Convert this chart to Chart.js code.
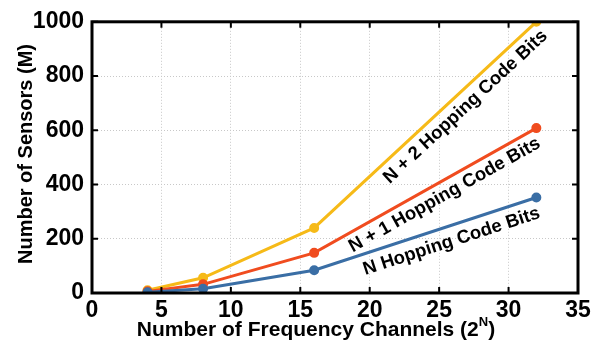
<!DOCTYPE html>
<html>
<head>
<meta charset="utf-8">
<script src="https://cdn.jsdelivr.net/npm/chart.js@4/dist/chart.umd.min.js"></script>
<style>
    html, body { margin: 0; padding: 0; background: #fff; }
    #wrap { width: 600px; height: 350px; }
</style>
</head>
<body>
<div id="wrap"><canvas id="sensorChart"></canvas></div>
<script>
const channels = [4, 8, 16, 32];
const nBits = [3, 16, 84, 352];
const n1Bits = [6, 32, 148, 608];
const n2Bits = [10, 56, 240, 1000];
const xTicks = [0, 5, 10, 15, 20, 25, 30, 35];
const yTicks = [0, 200, 400, 600, 800, 1000];

const FONT = '"Liberation Sans", Arial, Helvetica, sans-serif';

// text along each curve: label, centre (data units), series index
const curveLabels = [
    { text: 'N + 2 Hopping Code Bits', x: 26.9, y: 686, ds: 2 },
    { text: 'N + 1 Hopping Code Bits', x: 25.4, y: 361, ds: 1 },
    { text: 'N Hopping Code Bits', x: 25.9, y: 190, ds: 0 }
];

const toPoints = vals => vals.map((v, i) => ({ x: channels[i], y: v }));

// box, inward ticks, axis titles, curve labels
const decorations = {
    id: 'decorations',
    afterDraw(chart) {
        const { ctx, chartArea: a, scales: { x, y } } = chart;
        ctx.save();

        ctx.strokeStyle = '#000';
        ctx.lineWidth = 2;
        ctx.beginPath();
        xTicks.forEach(t => {
            const px = x.getPixelForValue(t);
            ctx.moveTo(px, a.bottom); ctx.lineTo(px, a.bottom - 6);
            ctx.moveTo(px, a.top); ctx.lineTo(px, a.top + 6);
        });
        yTicks.forEach(t => {
            const py = y.getPixelForValue(t);
            ctx.moveTo(a.left, py); ctx.lineTo(a.left + 6, py);
            ctx.moveTo(a.right, py); ctx.lineTo(a.right - 6, py);
        });
        ctx.stroke();

        ctx.lineWidth = 3;
        ctx.strokeRect(a.left, a.top, a.right - a.left, a.bottom - a.top);

        ctx.fillStyle = '#000';

        // y axis title
        ctx.save();
        ctx.font = 'bold 20px ' + FONT;
        ctx.textAlign = 'center';
        ctx.textBaseline = 'middle';
        ctx.translate(26, 154);
        ctx.rotate(-Math.PI / 2);
        ctx.fillText('Number of Sensors (M)', 0, 0);
        ctx.restore();

        // x axis title with superscript N
        const main = 'Number of Frequency Channels (2';
        ctx.textBaseline = 'alphabetic';
        ctx.font = 'bold 21px ' + FONT;
        const w1 = ctx.measureText(main).width;
        const w3 = ctx.measureText(')').width;
        ctx.font = 'bold 13px ' + FONT;
        const w2 = ctx.measureText('N').width;
        let sx = 316 - (w1 + w2 + w3) / 2;
        const base = 336;
        ctx.textAlign = 'left';
        ctx.font = 'bold 21px ' + FONT;
        ctx.fillText(main, sx, base);
        ctx.font = 'bold 13px ' + FONT;
        ctx.fillText('N', sx + w1, base - 10);
        ctx.font = 'bold 21px ' + FONT;
        ctx.fillText(')', sx + w1 + w2, base);

        // labels along the curves
        ctx.font = 'bold 18.5px ' + FONT;
        ctx.textAlign = 'center';
        ctx.textBaseline = 'middle';
        curveLabels.forEach(l => {
            const d = chart.data.datasets[l.ds].data;
            const p1 = d[2], p2 = d[3];
            const dx = x.getPixelForValue(p2.x) - x.getPixelForValue(p1.x);
            const dy = y.getPixelForValue(p2.y) - y.getPixelForValue(p1.y);
            ctx.save();
            ctx.translate(x.getPixelForValue(l.x), y.getPixelForValue(l.y));
            ctx.rotate(Math.atan2(dy, dx));
            ctx.fillText(l.text, 0, 0);
            ctx.restore();
        });

        ctx.restore();
    }
};

const series = [
    { label: 'N Hopping Code Bits', data: toPoints(nBits), color: '#3a6ea5' },
    { label: 'N + 1 Hopping Code Bits', data: toPoints(n1Bits), color: '#f04c1f' },
    { label: 'N + 2 Hopping Code Bits', data: toPoints(n2Bits), color: '#f6ba18' }
];

new Chart(document.getElementById('sensorChart'), {
    type: 'line',
    data: {
        datasets: series.map(s => ({
            label: s.label,
            data: s.data,
            borderColor: s.color,
            backgroundColor: s.color,
            borderWidth: 3,
            pointRadius: 3.5,
            pointHoverRadius: 3.5,
            tension: 0
        }))
    },
    options: {
        responsive: true,
        maintainAspectRatio: false,
        animation: false,
        layout: { padding: { left: 0, right: 22, top: 19, bottom: 0 } },
        plugins: {
            legend: { display: false },
            tooltip: { enabled: false }
        },
        scales: {
            x: {
                type: 'linear',
                min: 0,
                max: 35,
                afterBuildTicks: s => { s.ticks = xTicks.map(v => ({ value: v })); },
                afterFit: s => { s.height = 57; },
                grid: { color: '#c8c8c8', lineWidth: 1, drawTicks: false },
                border: { display: false, dash: [1, 2] },
                ticks: {
                    color: '#000',
                    padding: 4,
                    maxRotation: 0,
                    callback: v => String(v),
                    font: { family: FONT, size: 23, weight: 'bold' }
                }
            },
            y: {
                min: 0,
                max: 1000,
                afterBuildTicks: s => { s.ticks = yTicks.map(v => ({ value: v })); },
                afterFit: s => { s.width = 92; },
                grid: { color: '#c8c8c8', lineWidth: 1, drawTicks: false },
                border: { display: false, dash: [1, 2] },
                ticks: {
                    color: '#000',
                    padding: 8,
                    callback: v => String(v),
                    font: { family: FONT, size: 23, weight: 'bold' }
                }
            }
        }
    },
    plugins: [decorations]
});
</script>
</body>
</html>
